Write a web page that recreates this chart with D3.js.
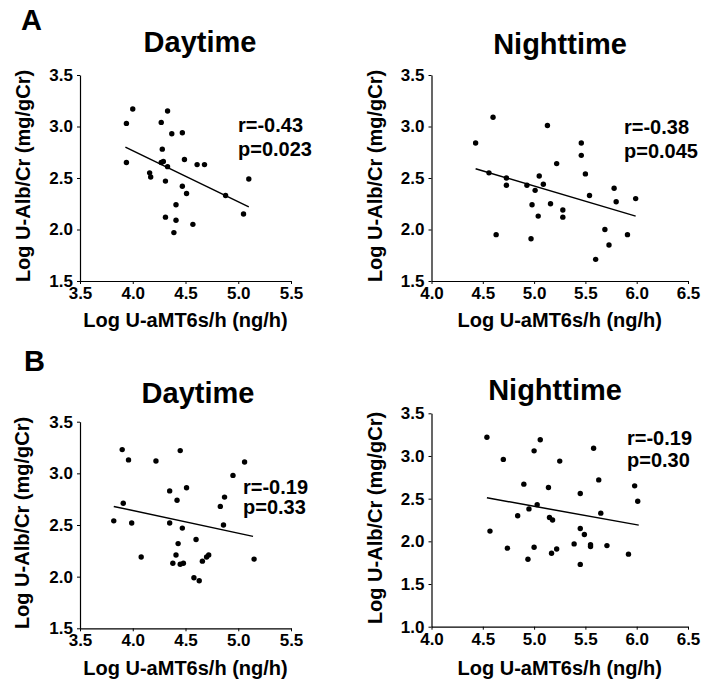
<!DOCTYPE html>
<html>
<head>
<meta charset="utf-8">
<script src="https://cdn.jsdelivr.net/npm/d3@7"></script>
<style>
html,body{margin:0;padding:0;background:#fff;}
svg{display:block;}
text{font-family:"Liberation Sans",Arial,Helvetica,sans-serif;font-weight:bold;fill:#000;}
</style>
</head>
<body>
<svg id="chart" width="709" height="686"></svg>
<script>
// ---------- DATA ----------
const panelLetters = ["A", "B"];
const panelTitles = ["Daytime", "Nighttime", "Daytime", "Nighttime"];
const xAxisTitle = "Log U-aMT6s/h (ng/h)";
const yAxisTitle = "Log U-Alb/Cr (mg/gCr)";

const xTicksDay = [3.5, 4.0, 4.5, 5.0, 5.5];
const xTicksNight = [4.0, 4.5, 5.0, 5.5, 6.0, 6.5];
const yTicks15 = [1.5, 2.0, 2.5, 3.0, 3.5];
const yTicks10 = [1.0, 1.5, 2.0, 2.5, 3.0, 3.5];

// A - Daytime
const aDayX = [4.00, 3.94, 3.94, 4.33, 4.27, 4.37, 4.47, 4.28, 4.27, 4.29, 4.33, 4.49, 4.61, 4.68, 4.16, 4.17, 4.31, 4.47, 4.51, 4.41, 4.31, 4.41, 4.57, 4.39, 4.88, 5.10, 5.05];
const aDayY = [3.17, 3.03, 2.65, 3.15, 3.04, 2.93, 2.94, 2.78, 2.65, 2.66, 2.61, 2.68, 2.63, 2.63, 2.55, 2.51, 2.47, 2.42, 2.35, 2.24, 2.12, 2.09, 2.05, 1.97, 2.33, 2.49, 2.15];
const aDayFitX = [3.93, 5.10];
const aDayFitY = [2.80, 2.22];
const aDayStats = ["r=-0.43", "p=0.023"];

// A - Nighttime
const aNightX = [4.43, 4.60, 5.13, 4.56, 4.73, 4.73, 4.63, 4.93, 5.01, 5.05, 5.09, 4.98, 5.04, 4.97, 5.22, 5.16, 5.28, 5.28, 5.46, 5.46, 5.50, 5.54, 5.60, 5.69, 5.73, 5.78, 5.80, 5.91, 5.99];
const aNightY = [2.84, 3.09, 3.01, 2.55, 2.50, 2.43, 1.95, 2.43, 2.38, 2.52, 2.44, 2.24, 2.13, 1.91, 2.64, 2.25, 2.19, 2.12, 2.84, 2.72, 2.54, 2.33, 1.71, 2.00, 1.85, 2.40, 2.27, 1.95, 2.30];
const aNightFitX = [4.43, 5.99];
const aNightFitY = [2.59, 2.13];
const aNightStats = ["r=-0.38", "p=0.045"];

// B - Daytime
const bDayX = [3.90, 3.96, 4.22, 4.45, 5.06, 4.95, 4.35, 4.51, 4.42, 3.91, 3.82, 3.99, 4.35, 4.47, 4.87, 4.83, 4.86, 4.60, 4.43, 4.41, 4.08, 4.38, 4.45, 4.48, 4.66, 4.70, 4.72, 4.58, 4.63, 5.15];
const bDayY = [3.23, 3.13, 3.12, 3.22, 3.11, 2.98, 2.83, 2.86, 2.74, 2.71, 2.54, 2.52, 2.52, 2.47, 2.77, 2.68, 2.50, 2.36, 2.32, 2.21, 2.19, 2.13, 2.12, 2.13, 2.15, 2.19, 2.21, 1.99, 1.96, 2.17];
const bDayFitX = [3.82, 5.14];
const bDayFitY = [2.68, 2.39];
const bDayStats = ["r=-0.19", "p=0.33"];

// B - Nighttime
const bNightX = [4.54, 5.06, 5.00, 4.70, 5.25, 5.58, 5.63, 5.98, 6.01, 4.90, 5.14, 5.45, 5.03, 4.95, 4.84, 5.15, 5.18, 5.65, 4.57, 5.45, 5.49, 4.74, 5.00, 5.39, 5.55, 5.55, 5.71, 5.22, 5.17, 4.94, 5.45, 5.92];
const bNightY = [3.22, 3.19, 3.06, 2.96, 2.94, 3.09, 2.72, 2.65, 2.47, 2.67, 2.63, 2.56, 2.43, 2.38, 2.30, 2.28, 2.25, 2.33, 2.12, 2.15, 2.08, 1.92, 1.93, 1.97, 1.96, 1.94, 1.95, 1.91, 1.86, 1.79, 1.73, 1.85];
const bNightFitX = [4.54, 6.02];
const bNightFitY = [2.51, 2.19];
const bNightStats = ["r=-0.19", "p=0.30"];

// ---------- LAYOUT ----------
const svg = d3.select("#chart");
const FONT = '"Liberation Sans",Arial,Helvetica,sans-serif';

const panels = [
  {x: aDayX, y: aDayY, fx: aDayFitX, fy: aDayFitY, stats: aDayStats, title: panelTitles[0],
   xd: [3.5, 5.5], yd: [1.5, 3.5], xt: xTicksDay, yt: yTicks15,
   px: [80, 291], py: [281, 75], titleX: 200, titleY: 52, statX: 238, statY: [132, 156], xtY: 320, ytX: 23},
  {x: aNightX, y: aNightY, fx: aNightFitX, fy: aNightFitY, stats: aNightStats, title: panelTitles[1],
   xd: [4.0, 6.5], yd: [1.5, 3.5], xt: xTicksNight, yt: yTicks15,
   px: [431.5, 688], py: [281, 75], titleX: 560, titleY: 54, statX: 624, statY: [134, 158], xtY: 320, ytX: 375},
  {x: bDayX, y: bDayY, fx: bDayFitX, fy: bDayFitY, stats: bDayStats, title: panelTitles[2],
   xd: [3.5, 5.5], yd: [1.5, 3.5], xt: xTicksDay, yt: yTicks15,
   px: [80, 291], py: [628.3, 421.7], titleX: 198, titleY: 403, statX: 243, statY: [494, 514], xtY: 668, ytX: 22},
  {x: bNightX, y: bNightY, fx: bNightFitX, fy: bNightFitY, stats: bNightStats, title: panelTitles[3],
   xd: [4.0, 6.5], yd: [1.0, 3.5], xt: xTicksNight, yt: yTicks10,
   px: [431.5, 688], py: [626.7, 413.3], titleX: 555, titleY: 400, statX: 627, statY: [445, 467], xtY: 668, ytX: 375}
];

// panel letters
svg.append("text").attr("x", 21).attr("y", 30).attr("font-size", 29).text(panelLetters[0]);
svg.append("text").attr("x", 24).attr("y", 371).attr("font-size", 29).text(panelLetters[1]);

panels.forEach(p => {
  const x = d3.scaleLinear().domain(p.xd).range(p.px);
  const y = d3.scaleLinear().domain(p.yd).range(p.py);
  const g = svg.append("g");

  // title
  g.append("text").attr("x", p.titleX).attr("y", p.titleY)
    .attr("text-anchor", "middle").attr("font-size", 29).text(p.title);

  // x axis
  const xa = g.append("g").attr("transform", `translate(0,${p.py[0]})`)
    .call(d3.axisBottom(x).tickValues(p.xt).tickFormat(d3.format(".1f")).tickSizeOuter(0).tickSizeInner(3).tickPadding(3));
  // y axis
  const ya = g.append("g").attr("transform", `translate(${p.px[0]},0)`)
    .call(d3.axisLeft(y).tickValues(p.yt).tickFormat(d3.format(".1f")).tickSizeOuter(0).tickSizeInner(3).tickPadding(4));
  [xa, ya].forEach(a => {
    a.select(".domain").attr("stroke", "#000").attr("stroke-width", 1.2);
    a.selectAll(".tick line").attr("stroke", "#000").attr("stroke-width", 1);
    a.selectAll(".tick text").attr("font-family", FONT).attr("font-weight", "bold")
      .attr("font-size", 17).attr("fill", "#000");
  });

  // axis titles
  g.append("text").attr("x", (p.px[0] + p.px[1]) / 2).attr("y", p.xtY + 7)
    .attr("text-anchor", "middle").attr("font-size", 20).text(xAxisTitle);
  const cy = (p.py[0] + p.py[1]) / 2 - 2;
  g.append("text").attr("transform", `translate(${p.ytX + 7},${cy}) rotate(-90)`)
    .attr("text-anchor", "middle").attr("font-size", 20).text(yAxisTitle);

  // points
  g.selectAll("circle").data(p.x.map((v, i) => [v, p.y[i]])).join("circle")
    .attr("cx", d => x(d[0])).attr("cy", d => y(d[1])).attr("r", 2.7).attr("fill", "#000");

  // fit line
  g.append("line")
    .attr("x1", x(p.fx[0])).attr("y1", y(p.fy[0]))
    .attr("x2", x(p.fx[1])).attr("y2", y(p.fy[1]))
    .attr("stroke", "#000").attr("stroke-width", 1.5);

  // stats
  p.stats.forEach((s, i) => {
    g.append("text").attr("x", p.statX).attr("y", p.statY[i]).attr("font-size", 20).text(s);
  });
});
</script>
</body>
</html>
